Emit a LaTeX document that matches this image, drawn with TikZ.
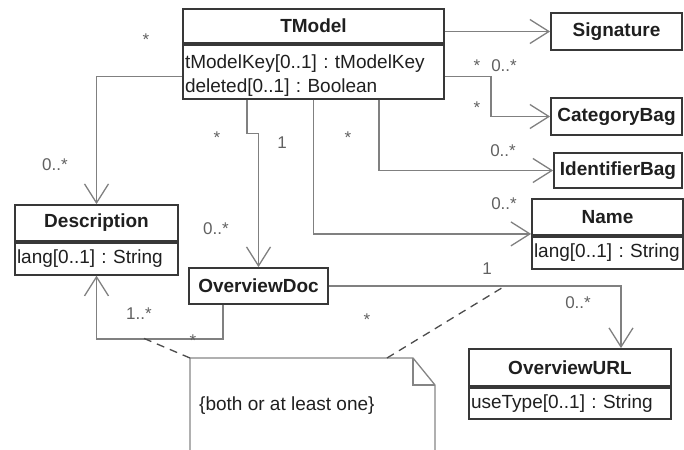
\documentclass[tikz,border=0pt]{standalone}
\usepackage{fontspec}
\setmainfont{Liberation Sans}
\usetikzlibrary{arrows.meta}
\frenchspacing

\definecolor{boxc}{gray}{0.22}
\definecolor{linec}{gray}{0.50}
\definecolor{txt}{gray}{0.12}
\definecolor{lbl}{gray}{0.38}
\definecolor{notec}{gray}{0.52}

\begin{document}
\begin{tikzpicture}[x=1pt,y=-1pt,
  title/.style={draw=boxc, line width=1.8pt, inner sep=0pt, text=txt,
    font=\fontsize{19}{22}\selectfont\bfseries},
  attr/.style={draw=boxc, line width=1.8pt, inner xsep=2pt, inner ysep=0pt,
    align=left, text=txt, anchor=north, font=\fontsize{19}{24}\selectfont},
  assoc/.style={draw=linec, line width=1.3pt,
    -{Straight Barb[length=19pt,width=24pt,line width=1.3pt]}},
  anchorline/.style={draw=black!70, line width=1.3pt, dash pattern=on 8pt off 6pt},
  mult/.style={anchor=base, inner sep=0pt, text=lbl,
    font=\fontsize{17}{20}\selectfont},
]
\useasboundingbox (0,0) rectangle (684,449);
\clip (0,0) rectangle (684,449);

% --- classes ---
\node[title, minimum width=261pt, minimum height=34pt] (tm) at (313.5,26) {TModel};
\node[attr, text width=257pt, minimum height=54pt] (tmA) at (tm.south)
  {\rule{0pt}{22pt}tModelKey[0..1] : tModelKey\\deleted[0..1] : Boolean};

\node[title, minimum width=131pt, minimum height=37pt] (sig) at (616.5,31.5) {Signature};
\node[title, minimum width=131pt, minimum height=37pt] (cat) at (616.5,116.5) {CategoryBag};
\node[title, minimum width=128pt, minimum height=35pt] (idb) at (618,170.5) {IdentifierBag};

\node[title, minimum width=151pt, minimum height=36pt] (nm) at (607.5,217) {Name};
\node[attr, text width=147pt, minimum height=32pt] (nmA) at (nm.south) {lang[0..1] : String};

\node[title, minimum width=163pt, minimum height=36pt] (desc) at (96.5,223) {Description};
\node[attr, text width=159pt, minimum height=32pt] (descA) at (desc.south) {lang[0..1] : String};

\node[title, minimum width=139pt, minimum height=36pt] (od) at (258.5,286) {OverviewDoc};

\node[title, minimum width=202pt, minimum height=37pt] (url) at (570,367.5) {OverviewURL};
\node[attr, text width=198pt, minimum height=31pt] (urlA) at (url.south) {useType[0..1] : String};

% --- associations ---
\draw[assoc] ([yshift=-5pt]tmA.west) -| (desc.north);
\draw[assoc] (tm.east |- sig.west) -- (sig.west);
\draw[assoc] ([yshift=-5pt]tmA.east) -- ++(46pt,0) |- (cat.west);
\draw[assoc] ([xshift=65.5pt]tmA.south) |- (idb.west);
\draw[assoc] (tmA.south) |- ([yshift=2pt]nmA.north west);
\draw[assoc] ([xshift=-66.5pt]tmA.south) -- ++(0,-34pt) -| (od.north);
\draw[assoc] (od.east) -| ([xshift=51pt]url.north);
\draw[assoc] ([xshift=-35.5pt]od.south) -- ++(0,-34pt) -| (descA.south);

% --- constraint note ---
\coordinate (nTL) at (190,358);
\coordinate (nFold) at (413,358);
\coordinate (nFoldIn) at (413,385);
\coordinate (nTR) at (435,385);
\draw[draw=notec, line width=1.3pt]
  (190,460) -- (nTL) -- (nFold) -- (nTR) -- (435,460);
\draw[draw=notec, line width=1.3pt] (nFold) -- (nFoldIn) -- (nTR);
\node[anchor=base west, inner sep=0pt, text=txt, font=\fontsize{19}{22}\selectfont]
  (note) at (199,410) {\{both or at least one\}};

\coordinate (kDesc) at (143,338);
\coordinate (kUrl) at (505,286);
\coordinate (nAnchor) at (387,358);
\draw[anchorline] (nTL) -- (kDesc);
\draw[anchorline] (nAnchor) -- (kUrl);

% --- multiplicities ---
\node[mult] (m1) at (146,46) {*};
\node[mult] (m2) at (55,170) {0..*};
\node[mult] (m3) at (217,143) {*};
\node[mult] (m4) at (282,149) {1};
\node[mult] (m5) at (216,234) {0..*};
\node[mult] (m6) at (348,143) {*};
\node[mult] (m7) at (477,72) {*};
\node[mult] (m8) at (504,72) {0..*};
\node[mult] (m9) at (477,114) {*};
\node[mult] (m10) at (503,157) {0..*};
\node[mult] (m11) at (504,209) {0..*};
\node[mult] (m12) at (487,274) {1};
\node[mult] (m13) at (367,325) {*};
\node[mult] (m14) at (578,308) {0..*};
\node[mult] (m15) at (139,319) {1..*};
\node[mult] (m16) at (193,346) {*};
\end{tikzpicture}
\end{document}
